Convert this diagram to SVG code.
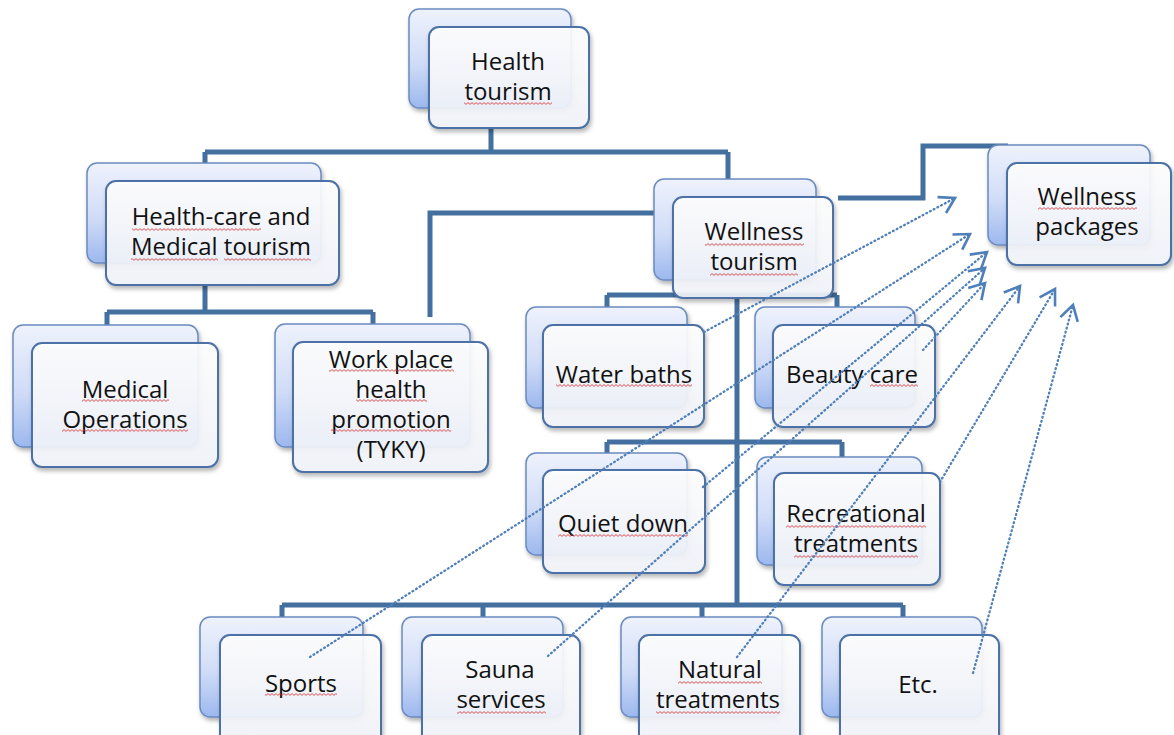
<svg xmlns="http://www.w3.org/2000/svg" width="1174" height="735" viewBox="0 0 1174 735">
  <defs>
    <linearGradient id="backFill" x1="0" y1="0" x2="0" y2="1">
      <stop offset="0" stop-color="#eef2fc"/>
      <stop offset="0.55" stop-color="#d0dcf7"/>
      <stop offset="1" stop-color="#9cb8ee"/>
    </linearGradient>
    <linearGradient id="frontFill" x1="0" y1="0" x2="0" y2="1">
      <stop offset="0" stop-color="#ffffff"/>
      <stop offset="1" stop-color="#f1f4fa"/>
    </linearGradient>
    <filter id="shadow" x="-10%" y="-10%" width="130%" height="135%">
      <feDropShadow dx="1.5" dy="3" stdDeviation="2" flood-color="#000000" flood-opacity="0.3"/>
    </filter>
    <pattern id="wavy" patternUnits="userSpaceOnUse" width="4" height="3">
      <path d="M0 0.6 L2 2.4 L4 0.6" fill="none" stroke="#d42a2a" stroke-width="0.8"/>
    </pattern>
    <marker id="openHead" markerUnits="userSpaceOnUse" orient="auto" refX="0" refY="0" markerWidth="20" markerHeight="20" overflow="visible">
      <path d="M-15,-9 L0,0 L-15,9" fill="none" stroke="#4f7fb9" stroke-width="2.6" stroke-dasharray="none" stroke-linejoin="miter"/>
    </marker>
  </defs>
  <style>
    .back { fill: url(#backFill); stroke: #6a8bc0; stroke-width: 1.5; filter: url(#shadow); }
    .front { fill: url(#frontFill); fill-opacity: 0.9; stroke: #4c71a6; stroke-width: 2; filter: url(#shadow); }
    .conn { fill: none; stroke: #44709f; stroke-width: 5; stroke-linejoin: miter; stroke-linecap: butt; }
    .dot { fill: none; stroke: #4f7fb9; stroke-width: 2.3; stroke-linecap: round; stroke-dasharray: 0.8 3.4; marker-end: url(#openHead); }
    .lbl { font-family: "Open Sans", "Liberation Sans", sans-serif; font-size: 24px; fill: #111111; text-anchor: middle; }
    .sq { fill: url(#wavy); }
  </style>

  <rect width="1174" height="735" fill="#ffffff"/>

  <!-- hierarchy connectors -->
  <g id="connectors">
    <path class="conn" d="M491 128 V152 M205 152 H728 M205 152 V181 M728 152 V197"/>
    <path class="conn" d="M205 285 V312 M107 312 H373 M107 312 V330 M373 312 V330"/>
    <path class="conn" d="M430 317 V213 H655"/>
    <path class="conn" d="M838 198 H923 V146 H1008"/>
    <path class="conn" d="M737 298 V605 M607 295 H837 M607 295 V310 M837 295 V310"/>
    <path class="conn" d="M607 442 H842 M607 442 V456 M842 442 V460"/>
    <path class="conn" d="M282 605 H903 M282 605 V620 M483 605 V620 M702 605 V620 M903 605 V620"/>
  </g>

  <g id="node-health-tourism">
    <rect class="back" x="409" y="9" width="162" height="99" rx="10"/>
    <rect class="front" x="429" y="27" width="160" height="101" rx="10"/>
    <text class="lbl" x="508" y="70">Health</text>
    <text class="lbl" x="508" y="100">tourism</text>
    <rect class="sq" x="464" y="102" width="88" height="3"/>
  </g>

  <g id="node-healthcare-medical">
    <rect class="back" x="87" y="163" width="234" height="100" rx="10"/>
    <rect class="front" x="106" y="181" width="233" height="104" rx="10"/>
    <text class="lbl" x="221" y="225">Health-care and</text>
    <text class="lbl" x="221" y="255">Medical tourism</text>
    <rect class="sq" x="132" y="228" width="129" height="3"/>
    <rect class="sq" x="131" y="258" width="87" height="3"/>
    <rect class="sq" x="224" y="258" width="87" height="3"/>
  </g>

  <g id="node-medical-operations">
    <rect class="back" x="13" y="325" width="185" height="122" rx="10"/>
    <rect class="front" x="32" y="343" width="186" height="124" rx="10"/>
    <text class="lbl" x="125" y="398">Medical</text>
    <text class="lbl" x="125" y="428">Operations</text>
    <rect class="sq" x="82" y="399" width="87" height="3"/>
    <rect class="sq" x="62" y="429" width="126" height="3"/>
  </g>

  <g id="node-workplace">
    <rect class="back" x="275" y="324" width="195" height="123" rx="10"/>
    <rect class="front" x="293" y="342" width="195" height="130" rx="10"/>
    <text class="lbl" x="391" y="368">Work place</text>
    <text class="lbl" x="391" y="398">health</text>
    <text class="lbl" x="391" y="428">promotion</text>
    <text class="lbl" x="391" y="458">(TYKY)</text>
    <rect class="sq" x="329" y="369" width="125" height="3"/>
    <rect class="sq" x="356" y="399" width="71" height="3"/>
    <rect class="sq" x="331" y="429" width="120" height="3"/>
  </g>

  <g id="node-wellness-tourism">
    <rect class="back" x="654" y="179" width="162" height="101" rx="10"/>
    <rect class="front" x="673" y="197" width="160" height="101" rx="10"/>
    <text class="lbl" x="754" y="240">Wellness</text>
    <text class="lbl" x="754" y="270">tourism</text>
    <rect class="sq" x="705" y="243" width="99" height="3"/>
    <rect class="sq" x="710" y="273" width="88" height="3"/>
  </g>

  <g id="node-wellness-packages">
    <rect class="back" x="988" y="145" width="162" height="100" rx="10"/>
    <rect class="front" x="1007" y="163" width="164" height="102" rx="10"/>
    <text class="lbl" x="1087" y="205">Wellness</text>
    <text class="lbl" x="1087" y="235">packages</text>
    <rect class="sq" x="1038" y="207" width="99" height="3"/>
  </g>

  <g id="node-water-baths">
    <rect class="back" x="526" y="307" width="161" height="101" rx="10"/>
    <rect class="front" x="543" y="325" width="161" height="102" rx="10"/>
    <text class="lbl" x="624" y="383">Water baths</text>
    <rect class="sq" x="556" y="384" width="136" height="3"/>
  </g>

  <g id="node-beauty-care">
    <rect class="back" x="755" y="307" width="160" height="101" rx="10"/>
    <rect class="front" x="773" y="325" width="162" height="102" rx="10"/>
    <text class="lbl" x="852" y="383">Beauty care</text>
    <rect class="sq" x="870" y="384" width="48" height="3"/>
  </g>

  <g id="node-quiet-down">
    <rect class="back" x="526" y="453" width="161" height="102" rx="10"/>
    <rect class="front" x="543" y="470" width="162" height="103" rx="10"/>
    <text class="lbl" x="623" y="532">Quiet down</text>
    <rect class="sq" x="558" y="534" width="130" height="3"/>
  </g>

  <g id="node-recreational">
    <rect class="back" x="757" y="457" width="165" height="108" rx="10"/>
    <rect class="front" x="774" y="473" width="166" height="112" rx="10"/>
    <text class="lbl" x="856" y="522">Recreational</text>
    <text class="lbl" x="856" y="552">treatments</text>
    <rect class="sq" x="786" y="525" width="140" height="3"/>
    <rect class="sq" x="794" y="555" width="124" height="3"/>
  </g>

  <g id="node-sports">
    <rect class="back" x="200" y="617" width="163" height="100" rx="10"/>
    <rect class="front" x="220" y="635" width="161" height="110" rx="10"/>
    <text class="lbl" x="301" y="692">Sports</text>
    <rect class="sq" x="265" y="693" width="72" height="3"/>
  </g>

  <g id="node-sauna">
    <rect class="back" x="402" y="617" width="161" height="100" rx="10"/>
    <rect class="front" x="422" y="635" width="158" height="110" rx="10"/>
    <text class="lbl" x="500" y="678">Sauna</text>
    <text class="lbl" x="501" y="708">services</text>
    <rect class="sq" x="457" y="711" width="89" height="3"/>
  </g>

  <g id="node-natural">
    <rect class="back" x="621" y="617" width="161" height="100" rx="10"/>
    <rect class="front" x="639" y="635" width="161" height="110" rx="10"/>
    <text class="lbl" x="720" y="678">Natural</text>
    <text class="lbl" x="718" y="708">treatments</text>
    <rect class="sq" x="678" y="681" width="84" height="3"/>
    <rect class="sq" x="656" y="711" width="124" height="3"/>
  </g>

  <g id="node-etc">
    <rect class="back" x="822" y="617" width="160" height="100" rx="10"/>
    <rect class="front" x="840" y="635" width="159" height="110" rx="10"/>
    <text class="lbl" x="918" y="693">Etc.</text>
  </g>

  <!-- dotted links gathering the services into packages -->
  <g id="package-links">
    <path class="dot" d="M704 332 L955 198"/>
    <path class="dot" d="M310 657 L970 234"/>
    <path class="dot" d="M703 487 L987 252"/>
    <path class="dot" d="M548 656 L985 268"/>
    <path class="dot" d="M923 350 L985 283"/>
    <path class="dot" d="M737 657 L1020 286"/>
    <path class="dot" d="M940 482 L1055 289"/>
    <path class="dot" d="M973 673 L1073 305"/>
  </g>
</svg>
